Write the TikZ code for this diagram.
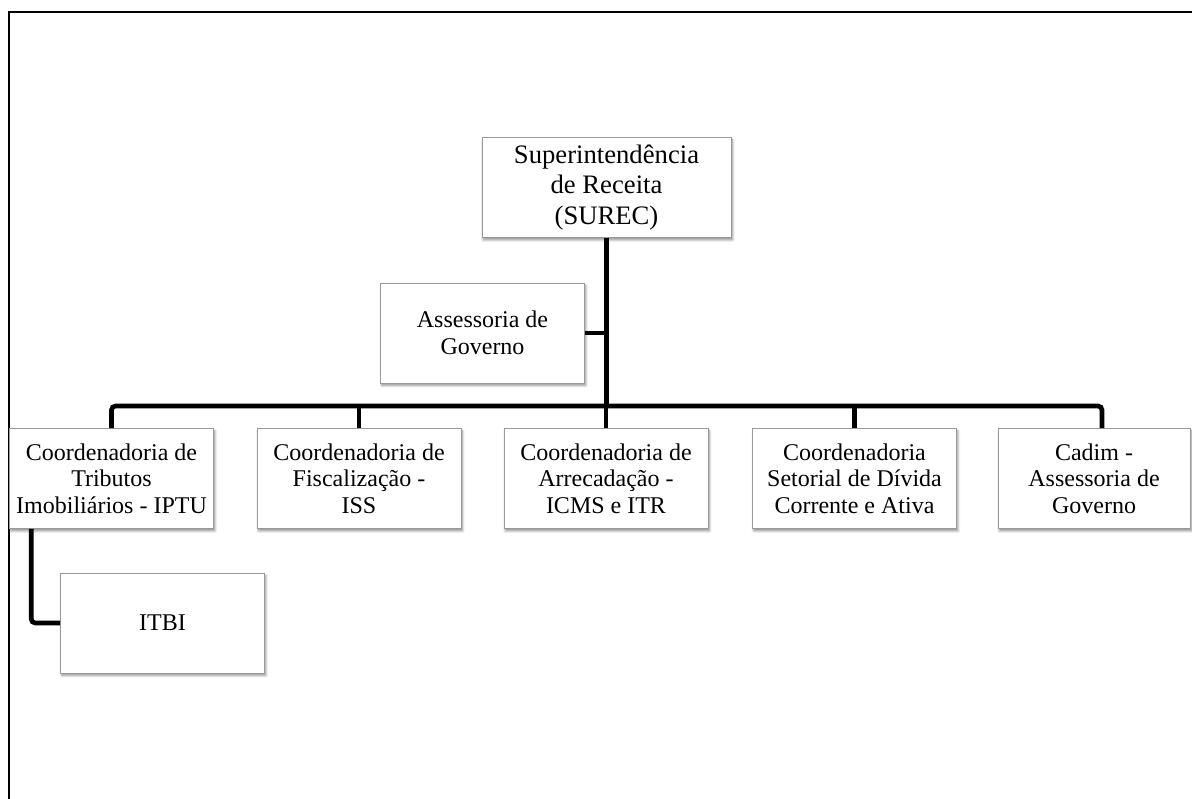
\documentclass[tikz,border=0pt]{standalone}
\usepackage{fontspec}
\setmainfont{Liberation Serif}
\usetikzlibrary{positioning, shadows.blur}

\begin{document}
\begin{tikzpicture}[x=0.75pt, y=-0.75pt,
  unit/.style={draw=black!40, fill=white, align=center,
    font=\fontsize{18}{20}\selectfont, inner sep=2pt,
    minimum width=153pt, minimum height=75pt,
    blur shadow={shadow xshift=1pt, shadow yshift=-1.8pt, shadow blur steps=6, shadow opacity=45}},
  link/.style={line width=3.5pt, rounded corners=3pt}]
\useasboundingbox (0,0) rectangle (1192,799);
% outer frame
\draw[line width=1.5pt] (9,799) -- (9,12) -- (1192,12);

\node[unit, minimum width=187pt, font=\fontsize{20}{23}\selectfont] (surec) at (606.5,187.5) {Superintendência\\de Receita\\(SUREC)};
\node[unit] (asgov) at (482.5,333) {Assessoria de\\Governo};
\node[unit] (iptu) at (111.5,478.5) {Coordenadoria de\\Tributos\\Imobiliários - IPTU};
\node[unit] (fisc) at (359,478.5) {Coordenadoria de\\Fiscalização -\\ISS};
\node[unit] (arrec) at (606,478.5) {Coordenadoria de\\Arrecadação -\\ICMS e ITR};
\node[unit] (divida) at (854.5,478.5) {Coordenadoria\\Setorial de Dívida\\Corrente e Ativa};
\node[unit, minimum width=144pt] (cadim) at (1094,478.5) {Cadim -\\Assessoria de\\Governo};
\node[unit] (itbi) at (162.5,623) {ITBI};

\coordinate (bar) at (606.5,406);
\draw[link] (surec) -- (bar);
\draw[link] (asgov) -- (asgov -| bar);
\draw[link] (iptu.north) |- (bar) -| ([xshift=6pt]cadim.north);
\foreach \n in {fisc, arrec, divida}
  \draw[link] (\n.north) -- (\n.north |- bar);
\draw[link] ([xshift=16.5pt]iptu.south west) |- (itbi.west);
\end{tikzpicture}
\end{document}
